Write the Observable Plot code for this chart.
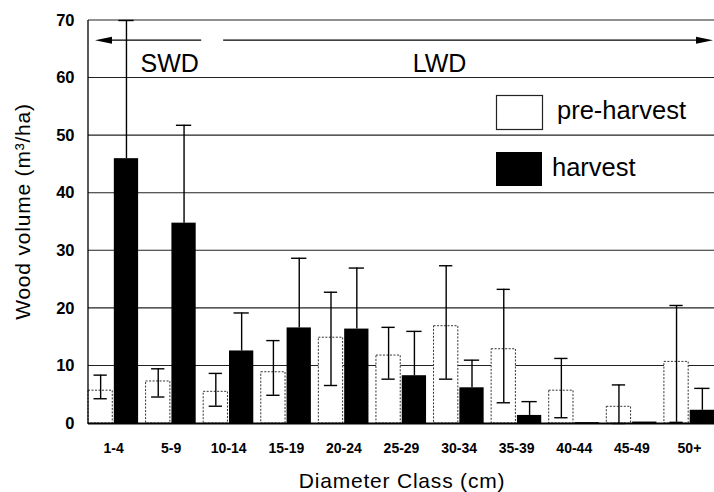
<!DOCTYPE html>
<html>
<head>
<meta charset="utf-8">
<script src="https://cdn.jsdelivr.net/npm/d3@7"></script>
<script src="https://cdn.jsdelivr.net/npm/@observablehq/plot@0.6"></script>
<style>
  html, body { margin: 0; padding: 0; background: #fff; }
  #chart { width: 714px; height: 492px; }
</style>
</head>
<body>
<div id="chart"></div>
<script>
const categories = ["1-4","5-9","10-14","15-19","20-24","25-29","30-34","35-39","40-44","45-49","50+"];
const seriesNames = ["pre-harvest","harvest"];
const preharvestMean = [5.7, 7.3, 5.5, 8.9, 14.9, 11.8, 16.9, 12.9, 5.7, 2.9, 10.7];
const preharvestLow  = [4.3, 4.6, 3.0, 4.9, 6.6, 7.7, 7.7, 3.6, 1.0, 0.0, 0.2];
const preharvestHigh = [8.4, 9.5, 8.7, 14.4, 22.8, 16.7, 27.4, 23.3, 11.3, 6.7, 20.5];
const harvestMean = [46.0, 34.8, 12.6, 16.6, 16.4, 8.3, 6.2, 1.4, 0.15, 0.25, 2.3];
const harvestHigh = [70, 51.8, 19.2, 28.7, 27.0, 16.0, 11.0, 3.8, null, null, 6.1];
const yTicks = [0, 10, 20, 30, 40, 50, 60, 70];
const yLabel = "Wood volume (m³/ha)";
const xLabel = "Diameter Class (cm)";
const groupLabels = ["SWD", "LWD"];

const preRows = categories.map((c, i) => ({cat: c, series: seriesNames[0], value: preharvestMean[i], low: preharvestLow[i], high: preharvestHigh[i]}));
const harvestRows = categories.map((c, i) => ({cat: c, series: seriesNames[1], value: harvestMean[i], high: harvestHigh[i]}));
const harvestErr = harvestRows.filter(d => d.high != null);

const FONT = "'Liberation Sans', Arial, sans-serif";
const W = 714, H = 492;
const chart = Plot.plot({
  width: W,
  height: H,
  marginLeft: 88,
  marginRight: 0,
  marginTop: 20,
  marginBottom: 69,
  style: {fontFamily: FONT, color: "black", background: "white", overflow: "visible"},
  fx: {domain: categories, paddingInner: 0.13, paddingOuter: 0, round: false, label: null},
  x: {domain: seriesNames, paddingInner: 0.06, paddingOuter: 0, round: false, axis: null},
  y: {domain: [0, 70], label: null},
  marks: [
    Plot.barY(preRows, {fx: "cat", x: "series", y: "value", fill: "white", stroke: "#333", strokeWidth: 1, strokeDasharray: "2,1.5"}),
    Plot.barY(harvestRows, {fx: "cat", x: "series", y: "value", fill: "black"}),
    Plot.ruleX(preRows, {fx: "cat", x: "series", y1: "low", y2: "high", stroke: "black", strokeWidth: 1.4}),
    Plot.tickY(preRows, {fx: "cat", x: "series", y: "low", stroke: "black", strokeWidth: 1.4, insetLeft: 5.5, insetRight: 5.5}),
    Plot.tickY(preRows, {fx: "cat", x: "series", y: "high", stroke: "black", strokeWidth: 1.4, insetLeft: 5.5, insetRight: 5.5}),
    Plot.ruleX(harvestErr, {fx: "cat", x: "series", y1: "value", y2: "high", stroke: "black", strokeWidth: 1.4}),
    Plot.tickY(harvestErr, {fx: "cat", x: "series", y: "high", stroke: "black", strokeWidth: 1.4, insetLeft: 4.5, insetRight: 4.5}),
    Plot.axisY({ticks: yTicks, tickSize: 0, tickPadding: 14, fontSize: 16.5, fontWeight: "bold", label: null}),
    Plot.axisFx({anchor: "bottom", tickSize: 0, tickPadding: 20, fontSize: 14, fontWeight: "bold", label: null})
  ]
});
document.getElementById("chart").appendChild(chart);

const svg = d3.select(chart);
const fx = chart.scale("fx");
const y = chart.scale("y");
const bw = fx.bandwidth;
const left = fx.range[0], right = fx.range[1];
const y0 = y.apply(0), yTop = y.apply(70);

const grid = svg.insert("g", ":first-child").attr("class", "grid");
svg.insert("rect", ":first-child").attr("width", W).attr("height", H).attr("fill", "white");
yTicks.filter(v => v > 0).forEach(v => {
  grid.append("line").attr("x1", left).attr("x2", right).attr("y1", y.apply(v)).attr("y2", y.apply(v))
    .attr("stroke", "#222").attr("stroke-width", 1.1);
});
const frame = svg.append("g");
frame.append("line").attr("x1", left).attr("x2", left).attr("y1", yTop).attr("y2", y0 + 1).attr("stroke", "black").attr("stroke-width", 1.3);
frame.append("line").attr("x1", left).attr("x2", right).attr("y1", y0 + 0.5).attr("y2", y0 + 0.5).attr("stroke", "black").attr("stroke-width", 2);

const ann = svg.append("g").attr("font-family", FONT).attr("text-anchor", "middle");
const ya = y.apply(66.5);
const sx1 = fx.apply(categories[0]) + 7, sx2 = fx.apply(categories[2]) - 2;
const lx1 = fx.apply(categories[2]) + 20, lx2 = fx.apply(categories[10]) + bw - 1;
ann.append("line").attr("x1", sx1 + 14).attr("x2", sx2).attr("y1", ya).attr("y2", ya).attr("stroke", "black").attr("stroke-width", 1.3);
ann.append("path").attr("d", `M${sx1},${ya} L${sx1 + 17},${ya - 3.5} L${sx1 + 17},${ya + 3.5} Z`).attr("fill", "black");
ann.append("line").attr("x1", lx1).attr("x2", lx2 - 14).attr("y1", ya).attr("y2", ya).attr("stroke", "black").attr("stroke-width", 1.3);
ann.append("path").attr("d", `M${lx2},${ya} L${lx2 - 17},${ya - 3.5} L${lx2 - 17},${ya + 3.5} Z`).attr("fill", "black");
const ty = y.apply(60.9);
ann.append("text").attr("x", fx.apply(categories[1]) + bw / 2 - 1).attr("y", ty).attr("font-size", 25).text(groupLabels[0]);
ann.append("text").attr("x", fx.apply(categories[6]) + 6).attr("y", ty).attr("font-size", 25).text(groupLabels[1]);

const leg = svg.append("g").attr("font-family", FONT).attr("font-size", 25.5).attr("text-anchor", "start");
leg.append("rect").attr("x", 496.5).attr("y", 95.5).attr("width", 46).attr("height", 34).attr("fill", "white").attr("stroke", "#222").attr("stroke-width", 1.2);
leg.append("text").attr("x", 557).attr("y", 119).text(seriesNames[0]);
leg.append("rect").attr("x", 496).attr("y", 152).attr("width", 46).attr("height", 34).attr("fill", "black");
leg.append("text").attr("x", 552).attr("y", 176).text(seriesNames[1]);

svg.append("text").attr("transform", `translate(30,${(yTop + y0) / 2 - 10}) rotate(-90)`).attr("text-anchor", "middle")
  .attr("font-size", 21).attr("letter-spacing", 0.8).attr("font-family", FONT).text(yLabel);
svg.append("text").attr("x", 402).attr("y", 488).attr("text-anchor", "middle")
  .attr("font-size", 21).attr("letter-spacing", 0.8).attr("font-family", FONT).text(xLabel);
</script>
</body>
</html>
